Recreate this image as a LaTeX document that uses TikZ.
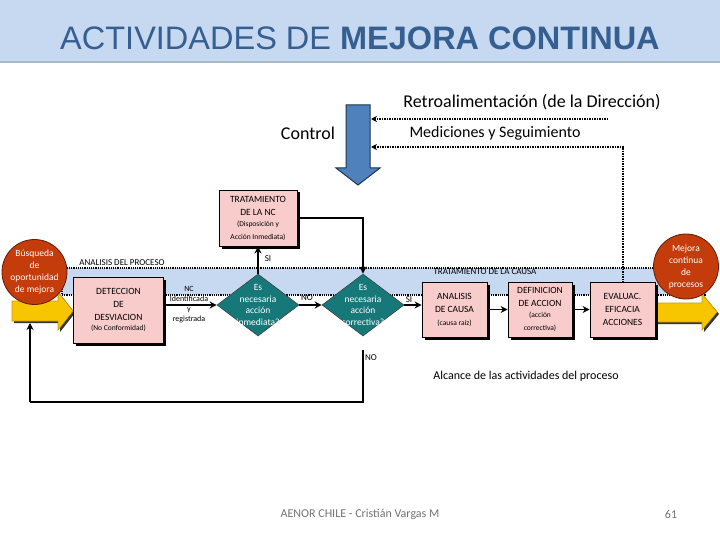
\documentclass[tikz,border=0pt]{standalone}
\usepackage{fontspec}
\setmainfont{Carlito}
\newfontfamily\titlefont{Liberation Sans}
\usetikzlibrary{arrows.meta,shapes.geometric,shadows}
\definecolor{bandblue}{HTML}{C6D9F0}
\definecolor{titleblue}{HTML}{365F91}
\definecolor{titleband}{HTML}{C6D9F1}
\definecolor{pinkbox}{HTML}{F9CCCC}
\definecolor{diateal}{HTML}{17787A}
\definecolor{redcirc}{HTML}{C43B0C}
\definecolor{goldy}{HTML}{F7C600}
\definecolor{ctrlblue}{HTML}{4F81BD}
\tikzset{
  pbox/.style={draw=black, line width=0.8pt, fill=pinkbox, align=center, inner sep=1pt,
    general shadow={fill=black, shadow xshift=2.5pt, shadow yshift=-2.5pt},
    font=\fontsize{9.5}{13}\selectfont},
  dia/.style={diamond, draw=black!75, line width=0.6pt, fill=diateal, minimum width=82pt, minimum height=62pt, inner sep=0pt},
  dtext/.style={text=white, align=center, font=\fontsize{9.5}{11.5}\selectfont},
  circ/.style={circle, fill=redcirc, draw=black!50!redcirc, line width=0.8pt, minimum size=65pt, inner sep=0pt},
  ctext/.style={text=white, align=center, font=\fontsize{9.5}{12}\selectfont},
  conn/.style={line width=1.8pt, -{Stealth[length=7pt,width=7pt]}},
  dotl/.style={densely dotted, line width=1.5pt},
  lbl/.style={font=\fontsize{9}{10}\selectfont, inner sep=0pt},
  big/.style={font=\fontsize{16}{18}\selectfont, inner sep=0pt}
}
\begin{document}
\begin{tikzpicture}[x=1pt,y=-1pt]
\useasboundingbox (0,0) rectangle (720,540);
\fill[white] (0,0) rectangle (720,540);
% title band
\fill[titleband] (0,0) rectangle (720,62);
\draw[color=titleband!85!black, line width=1.5pt] (0,62) -- (720,62);
\node[font=\titlefont\fontsize{32.5}{36}\selectfont, text=titleblue, inner sep=0pt] (title) at (360,38) {ACTIVIDADES DE \textbf{MEJORA CONTINUA}};
% process band
\fill[bandblue] (62,268) rectangle (706,295);
\draw[dotl, line width=1.2pt] (706,268) -- (62,268) -- (62,295) -- (706,295);
\node[lbl] (anp) at (122,263) {ANALISIS DEL PROCESO};
\node[lbl] (tdc) at (485,272) {TRATAMIENTO DE LA CAUSA};
% top texts
\node[big, font=\fontsize{18}{20}\selectfont] (retro) at (532,102) {Retroalimentación (de la Dirección)};
\node[big, font=\fontsize{18}{20}\selectfont] (ctrl) at (308,133) {Control};
\node[big] (med) at (495,133) {Mediciones y Seguimiento};
% control arrow
\draw[fill=ctrlblue, draw=black!60!ctrlblue, line width=1pt]
  (346,105) -- (370,105) -- (370,168) -- (380,168) -- (358,185) -- (336,168) -- (346,168) -- cycle;
% dotted feedback lines
\coordinate (r1) at (608,119);
\coordinate (r2) at (371,119);
\coordinate (m0) at (623,295);
\coordinate (m1) at (623,147);
\coordinate (m2) at (371,147);
\draw[dotl, -{Stealth[length=6pt,width=6pt]}] (r1) -- (r2);
\draw[dotl, -{Stealth[length=6pt,width=6pt]}] (m0) -- (m1) -- (m2);
% yellow arrows
\draw[fill=goldy, draw=goldy!80!black, line width=0.6pt, general shadow={fill=black!80, shadow xshift=2pt, shadow yshift=-2pt}]
  (12,301) -- (58,301) -- (58,292) -- (73,311) -- (58,330) -- (58,321) -- (12,321) -- cycle;
\draw[fill=goldy, draw=goldy!80!black, line width=0.6pt, general shadow={fill=black!80, shadow xshift=2pt, shadow yshift=-2pt}]
  (650,303) -- (702,303) -- (702,294) -- (717,312) -- (702,330) -- (702,322) -- (650,322) -- cycle;
% boxes
\node[pbox, minimum width=78pt, minimum height=56pt] (nc) at (258,218)
  {TRATAMIENTO\\DE LA NC\\[-2pt]{\fontsize{7.5}{10}\selectfont (Disposición y}\\{\fontsize{7.5}{10}\selectfont Acción Inmediata)}};
\node[pbox, minimum width=90pt, minimum height=66pt] (det) at (118.5,310)
  {DETECCION\\DE\\DESVIACION\\[-3pt]{\fontsize{7.5}{10}\selectfont (No Conformidad)}};
\node[pbox, minimum width=65pt, minimum height=55pt] (ac) at (454.5,309.5)
  {ANALISIS\\DE CAUSA\\{\fontsize{7.5}{10}\selectfont (causa raíz)}};
\node[pbox, minimum width=64pt, minimum height=55pt] (da) at (540,309.5)
  {DEFINICION\\DE ACCION\\[-2pt]{\fontsize{7.5}{10}\selectfont (acción}\\{\fontsize{7.5}{10}\selectfont correctiva)}};
\node[pbox, minimum width=65pt, minimum height=55pt] (ev) at (622.5,309.5)
  {EVALUAC.\\EFICACIA\\ACCIONES};
% diamonds
\node[dia] (d1) at (258,305) {};
\node[dtext] (d1t) at (d1) {Es\\necesaria\\acción\\inmediata?};
\node[dia] (d2) at (363,305) {};
\node[dtext] (d2t) at (d2) {Es\\necesaria\\acción\\correctiva?};
% connectors
\draw[conn] (det.east |- d1.west) -- (d1.west);
\draw[conn] (d1.north) -- (nc.south);
\draw[conn] (d1.east) -- (d2.west);
\draw[conn] (nc.east) -| (d2.north);
\fill (363,268) circle (2pt);
\draw[conn] (d2.east) -- (d2.east -| ac.west);
\draw[conn] (ac.east) -- (ac.east -| da.west);
\draw[conn] (da.east) -- (da.east -| ev.west);
\coordinate (lb) at (30,402);
\coordinate (ya) at (30,323);
\draw[line width=1.8pt, shorten <=14pt] (d2.south) |- (lb);
\draw[conn] (lb) -- (ya);
% connector labels
\node[lbl] (lsi1) at (268,259) {SI};
\node[lbl] (lno1) at (307,298) {NO};
\node[lbl] (lsi2) at (409,300) {SI};
\node[lbl] (lno2) at (371,358) {NO};
\node[lbl, align=center, font=\fontsize{8}{10}\selectfont] (lnc) at (189,305) {NC\\Identificada\\y\\registrada};
% circles
\node[circ] (c1) at (34.5,272) {};
\node[ctext] (c1t) at (c1) {Búsqueda\\de\\oportunidad\\de mejora};
\node[circ] (c2) at (686,266.5) {};
\node[ctext] (c2t) at (c2) {Mejora\\continua\\de\\procesos};
% bottom texts
\node[font=\fontsize{12}{14}\selectfont, inner sep=0pt] (alc) at (526,376) {Alcance de las actividades del proceso};
\node[font=\fontsize{12}{14}\selectfont, text=black!55, inner sep=0pt] (foot) at (360,514) {AENOR CHILE - Cristián Vargas M};
\node[font=\fontsize{12}{14}\selectfont, text=black!55, inner sep=0pt] (pg) at (671,514) {61};
\end{tikzpicture}
\end{document}
